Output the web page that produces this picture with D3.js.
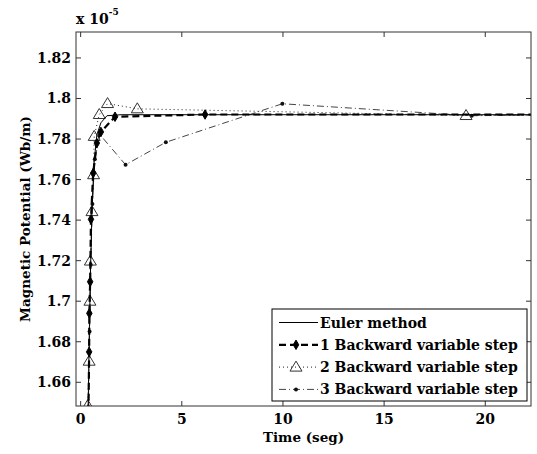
<!DOCTYPE html>
<html>
<head>
<meta charset="utf-8">
<script src="https://cdn.jsdelivr.net/npm/d3@7/dist/d3.min.js"></script>
<style>
  body { margin: 0; background: #fff; }
  svg text { font-family: "DejaVu Serif", "Liberation Serif", serif; font-weight: bold; }
</style>
</head>
<body>
<svg id="chart" width="537" height="454"></svg>
<script>
'use strict';

// values in units of 1e-5 Wb/m
const eulerT = [0.36, 0.42, 0.48, 0.56, 0.66, 0.8, 1.0, 1.3, 2.0, 22.3];
const eulerV = [1.640, 1.680, 1.712, 1.745, 1.768, 1.782, 1.788, 1.7915, 1.792, 1.792];

const back1T = [0.38, 0.42, 0.43, 0.47, 0.51, 0.62, 0.8, 1.0, 1.7, 6.15, 22.3];
const back1V = [1.640, 1.675, 1.694, 1.7096, 1.7404, 1.7632, 1.778, 1.7835, 1.791, 1.7921, 1.7921];

const back2T = [0.35, 0.42, 0.46, 0.48, 0.56, 0.64, 0.67, 0.92, 1.33, 2.8, 19.05, 22.3];
const back2V = [1.6485, 1.6704, 1.700, 1.7198, 1.7442, 1.7624, 1.7813, 1.7921, 1.7975, 1.7949, 1.7916, 1.7918];

const back3T = [0.37, 0.44, 0.5, 0.58, 0.7, 0.95, 2.22, 4.21, 9.97, 19.33, 22.3];
const back3V = [1.640, 1.685, 1.718, 1.748, 1.770, 1.7822, 1.7673, 1.7784, 1.7974, 1.7915, 1.7918];

const xTicks = [0, 5, 10, 15, 20];
const yTicks = [1.66, 1.68, 1.70, 1.72, 1.74, 1.76, 1.78, 1.80, 1.82];
const legendLabels = ["Euler method", "1 Backward variable step", "2 Backward variable step", "3 Backward variable step"];

const svg = d3.select("#chart");
const pLeft = 76, pRight = 531, pTop = 32, pBottom = 406;

const x = d3.scaleLinear().domain([-0.23, 22.26]).range([pLeft, pRight]);
const y = d3.scaleLinear().domain([1.6483, 1.8328]).range([pBottom, pTop]);

svg.append("defs").append("clipPath").attr("id", "plotClip")
    .append("rect")
    .attr("x", pLeft).attr("y", pTop)
    .attr("width", pRight - pLeft).attr("height", pBottom - pTop);

const zip = (ts, vs) => ts.map((t, i) => [t, vs[i]]);
const line = d3.line().x(d => x(d[0])).y(d => y(d[1]));

const series = [
    { data: zip(eulerT, eulerV), stroke: "#000", width: 1, dash: null, marker: null },
    { data: zip(back1T, back1V), stroke: "#000", width: 2.2, dash: "7,4", marker: "star" },
    { data: zip(back2T, back2V), stroke: "#222", width: 1, dash: "1,3", marker: "tri" },
    { data: zip(back3T, back3V), stroke: "#444", width: 1, dash: "7,3,1,3", marker: "dot" }
];

const plot = svg.append("g").attr("clip-path", "url(#plotClip)");

function drawMarker(g, kind, px, py) {
    if (kind === "star") {
        g.append("path")
            .attr("d", d3.symbol().type(d3.symbolDiamond).size(26)())
            .attr("transform", `translate(${px},${py})`)
            .attr("fill", "#000").attr("stroke", "#000").attr("stroke-width", 1);
    } else if (kind === "tri") {
        g.append("path")
            .attr("d", `M${px},${py - 6}L${px + 6},${py + 4}L${px - 6},${py + 4}Z`)
            .attr("fill", "none").attr("stroke", "#333").attr("stroke-width", 1);
    } else if (kind === "dot") {
        g.append("circle")
            .attr("cx", px).attr("cy", py).attr("r", 2)
            .attr("fill", "#111");
    }
}

// draw series in reverse so the Euler line sits on top
series.slice().reverse().forEach(s => {
    plot.append("path")
        .attr("d", line(s.data))
        .attr("fill", "none")
        .attr("stroke", s.stroke)
        .attr("stroke-width", s.width)
        .attr("stroke-dasharray", s.dash);
    if (s.marker) {
        s.data.slice(0, -1).forEach(d => drawMarker(plot, s.marker, x(d[0]), y(d[1])));
    }
});

// axes box and ticks (MATLAB style, ticks inside on all four sides)
const frame = svg.append("g").attr("stroke", "#333").attr("stroke-width", 1);
frame.append("rect")
    .attr("x", pLeft).attr("y", pTop)
    .attr("width", pRight - pLeft).attr("height", pBottom - pTop)
    .attr("fill", "none");

xTicks.forEach(t => {
    frame.append("line").attr("x1", x(t)).attr("x2", x(t)).attr("y1", pBottom).attr("y2", pBottom - 5);
    frame.append("line").attr("x1", x(t)).attr("x2", x(t)).attr("y1", pTop).attr("y2", pTop + 5);
});
yTicks.forEach(v => {
    frame.append("line").attr("x1", pLeft).attr("x2", pLeft + 5).attr("y1", y(v)).attr("y2", y(v));
    frame.append("line").attr("x1", pRight).attr("x2", pRight - 5).attr("y1", y(v)).attr("y2", y(v));
});

svg.append("g").selectAll("text").data(xTicks).join("text")
    .attr("x", d => x(d)).attr("y", 424)
    .attr("text-anchor", "middle").attr("font-size", 14)
    .text(d => d);

svg.append("g").selectAll("text").data(yTicks).join("text")
    .attr("x", 71).attr("y", d => y(d) + 5)
    .attr("text-anchor", "end").attr("font-size", 14)
    .text(d => String(+d.toFixed(2)));

// exponent label
const expo = svg.append("text").attr("x", 76).attr("y", 24).attr("font-size", 14);
expo.append("tspan").text("x 10");
expo.append("tspan").attr("dy", -9).attr("font-size", 9).text("-5");

svg.append("text")
    .attr("x", (pLeft + pRight) / 2).attr("y", 442)
    .attr("text-anchor", "middle").attr("font-size", 13.5)
    .text("Time (seg)");

svg.append("text")
    .attr("transform", `translate(30,${(pTop + pBottom) / 2}) rotate(-90)`)
    .attr("text-anchor", "middle").attr("font-size", 13.5)
    .text("Magnetic Potential (Wb/m)");

// legend
const lg = svg.append("g");
lg.append("rect")
    .attr("x", 272).attr("y", 309)
    .attr("width", 255).attr("height", 92)
    .attr("fill", "#fff").attr("stroke", "#000").attr("stroke-width", 1);

series.forEach((s, i) => {
    const ly = 322.5 + i * 22.3;
    lg.append("line")
        .attr("x1", 279).attr("x2", 318).attr("y1", ly).attr("y2", ly)
        .attr("stroke", s.stroke).attr("stroke-width", s.width)
        .attr("stroke-dasharray", s.dash);
    if (s.marker) drawMarker(lg, s.marker, 296, ly);
    lg.append("text")
        .attr("x", 320).attr("y", ly + 5)
        .attr("font-size", 14)
        .text(legendLabels[i]);
});
</script>
</body>
</html>
